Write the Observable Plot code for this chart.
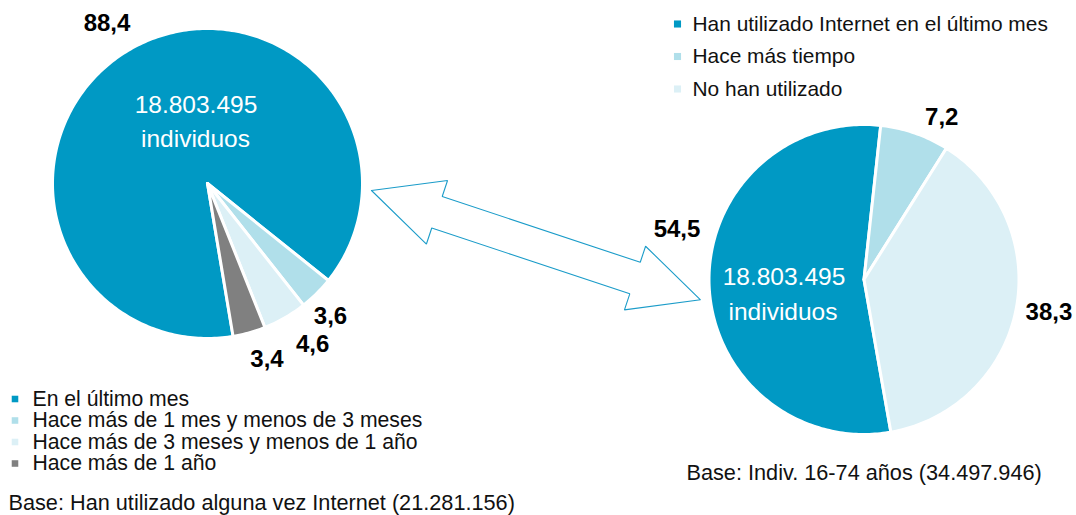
<!DOCTYPE html>
<html><head><meta charset="utf-8">
<script src="https://cdn.jsdelivr.net/npm/d3@7"></script>
<script src="https://cdn.jsdelivr.net/npm/@observablehq/plot@0.6"></script>
<style>body{margin:0;background:#fff}</style>
</head><body><div id="chart"></div>
<script>
// ---------- DATA ----------
const leftCategories = ["En el último mes", "Hace más de 1 mes y menos de 3 meses", "Hace más de 3 meses y menos de 1 año", "Hace más de 1 año"];
const leftValues = [88.4, 3.6, 4.6, 3.4];
const rightCategories = ["Han utilizado Internet en el último mes", "Hace más tiempo", "No han utilizado"];
const rightValues = [54.5, 7.2, 38.3];
const centerLines = ["18.803.495", "individuos"];
const leftBase = "Base: Han utilizado alguna vez Internet (21.281.156)";
const rightBase = "Base: Indiv. 16-74 años (34.497.946)";

// ---------- STYLE / LAYOUT ----------
const W = 1076, H = 515;
const FONT = "'Liberation Sans', Arial, sans-serif";
const leftColors = ["#0099c4", "#b0dfea", "#dcf0f6", "#808080"];
const rightColors = ["#0099c4", "#b0dfea", "#dcf0f6"];
const leftPie = {cx: 207, cy: 183, r: 155, start: 170.5,
  labelOffsets: [[-1.8, 188.7], [1.9, 180.8], [-3.2, 191.8], [-3.1, 185.3]],
  center: [[195.5, 105], [195, 138.2]]};
const rightPie = {cx: 863.5, cy: 279, r: 155, start: 170,
  labelOffsets: [[17, 193.7], [6.4, 180.3], [-1, 187.8]],
  center: [[783.5, 276.4], [782.5, 311.2]]};
const arrow = {from: [371, 190], to: [700, 299.3], headLen: 69, headHalf: 33.5, shaftHalf: 16.6};
const leftLegend = {sx: 14.5, tx: 32, y0: 398.5, dy: 21.5, size: 3.7, font: 21.2};
const rightLegend = {sx: 677, tx: 692, y0: 23.5, dy: 32.5, size: 4, font: 20.9};

const rad = d => d * Math.PI / 180;
const fmt = v => v.toFixed(1).replace(".", ",");

function pieSlices(values, p) {
  const arcs = d3.pie().sort(null).startAngle(rad(p.start)).endAngle(rad(p.start) + 2 * Math.PI)(values);
  return arcs.map((a, i) => {
    const pts = [{x: p.cx, y: p.cy}];
    const n = Math.max(2, Math.ceil((a.endAngle - a.startAngle) / rad(1)));
    for (let k = 0; k <= n; k++) {
      const t = a.startAngle + (a.endAngle - a.startAngle) * k / n;
      pts.push({x: p.cx + p.r * Math.sin(t), y: p.cy - p.r * Math.cos(t)});
    }
    pts.push({x: p.cx, y: p.cy});
    const mid = (a.startAngle + a.endAngle) / 2 + rad(p.labelOffsets[i][0]);
    const lr = p.labelOffsets[i][1];
    return {pts, label: {x: p.cx + lr * Math.sin(mid), y: p.cy - lr * Math.cos(mid), text: fmt(values[i])}};
  });
}

function arrowPolygon(a) {
  const [x1, y1] = a.from, [x2, y2] = a.to;
  const L = Math.hypot(x2 - x1, y2 - y1);
  const ux = (x2 - x1) / L, uy = (y2 - y1) / L, nx = -uy, ny = ux;
  const P = (s, w) => ({x: x1 + ux * s + nx * w, y: y1 + uy * s + ny * w});
  return [P(0, 0), P(a.headLen, -a.headHalf), P(a.headLen, -a.shaftHalf), P(L - a.headLen, -a.shaftHalf),
    P(L - a.headLen, -a.headHalf), P(L, 0), P(L - a.headLen, a.headHalf), P(L - a.headLen, a.shaftHalf),
    P(a.headLen, a.shaftHalf), P(a.headLen, a.headHalf), P(0, 0)];
}

const left = pieSlices(leftValues, leftPie);
const right = pieSlices(rightValues, rightPie);

const marks = [];
left.forEach((s, i) => marks.push(Plot.line(s.pts, {x: "x", y: "y", fill: leftColors[i], stroke: "white", strokeWidth: 3, strokeLinejoin: "round"})));
right.forEach((s, i) => marks.push(Plot.line(s.pts, {x: "x", y: "y", fill: rightColors[i], stroke: "white", strokeWidth: 3, strokeLinejoin: "round"})));
marks.push(Plot.line(arrowPolygon(arrow), {x: "x", y: "y", fill: "white", stroke: "#1b9cc9", strokeWidth: 1.1, strokeLinejoin: "miter"}));

// value labels
marks.push(Plot.text([...left, ...right].map(s => s.label), {x: "x", y: "y", text: "text", fontSize: 24, fontWeight: "bold", fill: "#000", lineAnchor: "middle", textAnchor: "middle"}));

// center texts
[leftPie, rightPie].forEach(p => {
  marks.push(Plot.text(centerLines.map((t, i) => ({t, x: p.center[i][0], y: p.center[i][1]})), {x: "x", y: "y", text: "t", fontSize: 24.5, fill: "white", lineAnchor: "middle", textAnchor: "middle"}));
});

// legends
function legend(cats, colors, L) {
  const rows = cats.map((c, i) => ({c, color: colors[i], y: L.y0 + i * L.dy}));
  return [
    Plot.dot(rows, {x: () => L.sx, y: "y", symbol: "square", r: L.size, fill: d => d.color, stroke: null}),
    Plot.text(rows, {x: () => L.tx, y: "y", text: "c", fontSize: L.font, fill: "#111", textAnchor: "start", lineAnchor: "middle"})
  ];
}
marks.push(...legend(leftCategories, leftColors, leftLegend));
marks.push(...legend(rightCategories, rightColors, rightLegend));

// bases
marks.push(Plot.text([{t: leftBase, x: 8, y: 503}, {t: rightBase, x: 686, y: 473}], {x: "x", y: "y", text: "t", fontSize: 21.7, fill: "#111", textAnchor: "start", lineAnchor: "middle"}));

const chart = Plot.plot({
  width: W, height: H, margin: 0,
  x: {domain: [0, W], range: [0, W], axis: null},
  y: {domain: [0, H], range: [0, H], axis: null},
  color: {type: "identity"},
  style: {fontFamily: FONT, background: "white", overflow: "visible"},
  marks
});
document.getElementById("chart").appendChild(chart);
</script>
</body></html>
